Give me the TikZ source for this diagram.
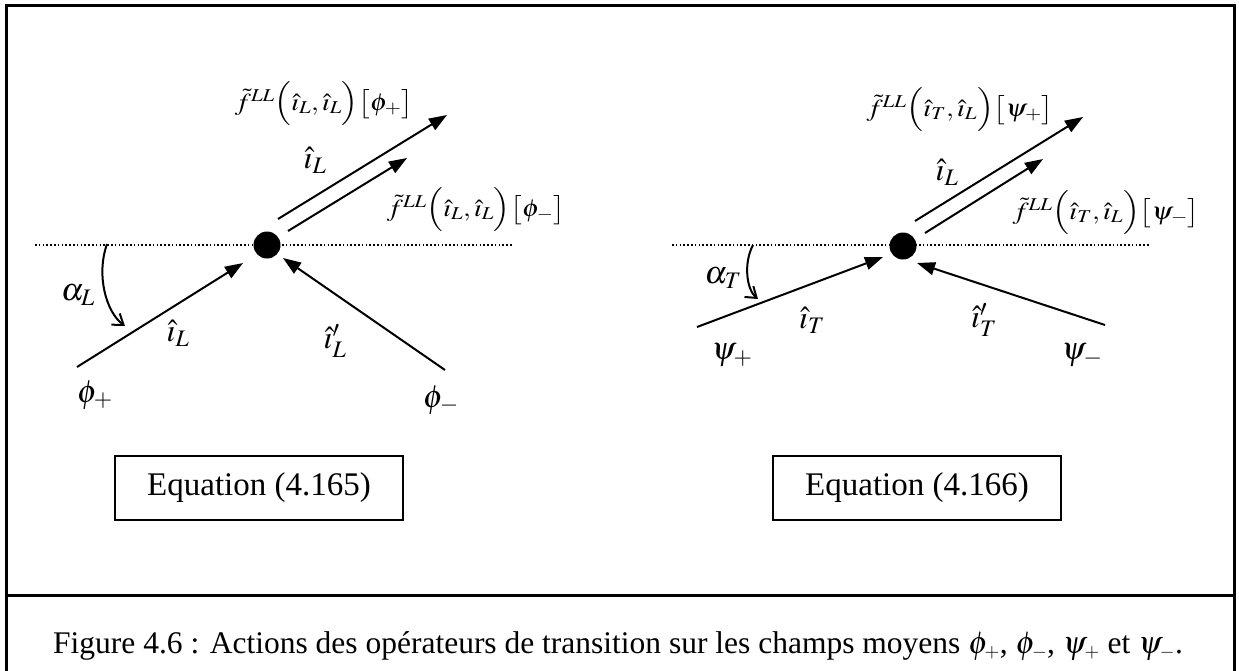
\documentclass[tikz,border=0pt]{standalone}
\usepackage{mathptmx}
\usepackage{graphicx}
\usepackage{fontspec}
\setmainfont{Liberation Serif}
\usetikzlibrary{arrows.meta}
\newcommand{\fitwh}[3]{\resizebox*{#1}{#2}{$#3$}}
\begin{document}
\begin{tikzpicture}[x=1pt,y=-1pt,
  arr/.style={line width=2pt,-{Triangle[length=18pt,width=13pt]}},
  curvarr/.style={line width=2pt,-{Straight Barb[length=10pt,width=14pt,line width=2pt]}},
  dotline/.style={line width=1.6pt,dash pattern=on 1.6pt off 2.2pt},
  lbl/.style={inner sep=0pt,font=\fontsize{32}{38}\selectfont},
  eqbox/.style={draw,line width=2pt,minimum width=288pt,minimum height=64pt,inner sep=0pt,font=\fontsize{33}{40}\selectfont},
  ball/.style={circle,fill=black,minimum size=27pt,inner sep=0pt}]
\useasboundingbox (0,0) rectangle (1239,670);
% frame
\draw[line width=3pt] (6.5,680) -- (6.5,5) -- (1234.5,5) -- (1234.5,680);
\draw[line width=3pt] (6.5,595) -- (1234.5,595);
% ---------- left diagram ----------
\coordinate (dlA) at (35,245);
\coordinate (dlB) at (512,245);
\draw[dotline] (dlA) -- (dlB);
\node[ball] (dL) at (267,245) {};
\coordinate (lp0) at (77,367);  \coordinate (lp1) at (243,263);
\coordinate (lm0) at (445,370); \coordinate (lm1) at (283,258);
\coordinate (lu0) at (278,219); \coordinate (lu1) at (447,115);
\coordinate (ll0) at (288,231); \coordinate (ll1) at (407,158);
\draw[arr] (lp0) -- (lp1);
\draw[arr] (lm0) -- (lm1);
\draw[arr] (lu0) -- (lu1);
\draw[arr] (ll0) -- (ll1);
\coordinate (la0) at (107,244); \coordinate (la1) at (125,326);
\draw[curvarr] (la0) .. controls (96,275) and (106,312) .. (la1);
\node[lbl] (lfp) at (324,104) {\fitwh{178pt}{44pt}{\tilde{f}^{LL}\Bigl(\hat{\imath}_L,\hat{\imath}_L\Bigr)\bigl[\phi_{+}\bigr]}};
\node[lbl] (lim) at (315,160) {$\hat{\imath}_L$};
\node[lbl] (lfm) at (476,210) {\fitwh{178pt}{44pt}{\tilde{f}^{LL}\Bigl(\hat{\imath}_L,\hat{\imath}_L\Bigr)\bigl[\phi_{-}\bigr]}};
\node[lbl] (lal) at (78,295) {$\alpha_L$};
\node[lbl] (liL) at (178,333) {$\hat{\imath}_L$};
\node[lbl] (liLp) at (335,341) {$\hat{\imath}'_L$};
\node[lbl] (lphp) at (95,395) {$\phi_{+}$};
\node[lbl] (lphm) at (441,400) {$\phi_{-}$};
\node[eqbox] (eqL) at (259,488) {Equation (4.165)};
% ---------- right diagram ----------
\coordinate (drA) at (672,245);
\coordinate (drB) at (1150,245);
\draw[dotline] (drA) -- (drB);
\node[ball] (dR) at (903,246) {};
\coordinate (rp0) at (697,327);  \coordinate (rp1) at (883,257);
\coordinate (rm0) at (1105,325); \coordinate (rm1) at (917,263);
\coordinate (ru0) at (915,221);  \coordinate (ru1) at (1083,117);
\coordinate (rl0) at (925,233);  \coordinate (rl1) at (1043,159);
\draw[arr] (rp0) -- (rp1);
\draw[arr] (rm0) -- (rm1);
\draw[arr] (ru0) -- (ru1);
\draw[arr] (rl0) -- (rl1);
\coordinate (ra0) at (753,245); \coordinate (ra1) at (758,299);
\draw[curvarr] (ra0) .. controls (743,264) and (747,290) .. (ra1);
\node[lbl] (rfp) at (960,110) {\fitwh{187pt}{44pt}{\tilde{f}^{LL}\Bigl(\hat{\imath}_T,\hat{\imath}_L\Bigr)\bigl[\psi_{+}\bigr]}};
\node[lbl] (rim) at (947,172) {$\hat{\imath}_L$};
\node[lbl] (rfm) at (1106,213) {\fitwh{187pt}{44pt}{\tilde{f}^{LL}\Bigl(\hat{\imath}_T,\hat{\imath}_L\Bigr)\bigl[\psi_{-}\bigr]}};
\node[lbl] (ral) at (723,278) {$\alpha_T$};
\node[lbl] (riT) at (812,320) {$\hat{\imath}_T$};
\node[lbl] (riTp) at (984,320) {$\hat{\imath}'_T$};
\node[lbl] (rpsp) at (732,355) {$\psi_{+}$};
\node[lbl] (rpsm) at (1082,355) {$\psi_{-}$};
\node[eqbox] (eqR) at (917,488) {Equation (4.166)};
% ---------- caption ----------
\node[inner sep=0pt,anchor=base west,font=\fontsize{31.5}{37}\selectfont] (cap) at (53,653)
  {Figure 4.6 : Actions des opérateurs de transition sur les champs moyens $\phi_{\scriptscriptstyle +}$, $\phi_{\scriptscriptstyle -}$, $\psi_{\scriptscriptstyle +}$ et $\psi_{\scriptscriptstyle -}$.};
\end{tikzpicture}
\end{document}
